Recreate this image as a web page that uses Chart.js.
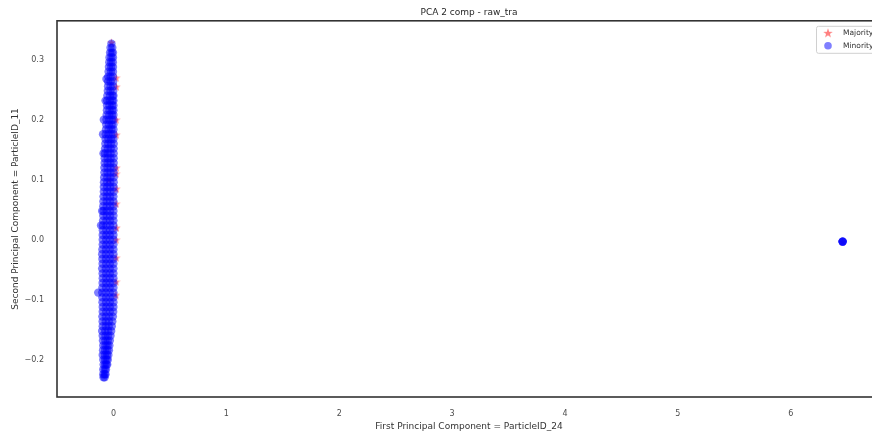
<!DOCTYPE html>
<html>
<head>
<meta charset="utf-8">
<script src="https://cdn.jsdelivr.net/npm/chart.js@4.4.1/dist/chart.umd.min.js"></script>
<style>
  html, body { margin: 0; padding: 0; background: #fff; overflow: hidden; }
  #wrap { width: 938px; height: 434px; }
</style>
</head>
<body>
<div id="wrap"><canvas id="c" width="938" height="434"></canvas></div>
<script>
// Projection of raw_tra onto the first two principal components.
const chartTitle = 'PCA 2 comp - raw_tra';
const xAxisTitle = 'First Principal Component = ParticleID_24';
const yAxisTitle = 'Second Principal Component = ParticleID_11';
const seriesNames = ['Majority', 'Minority'];
const xTicks = [0, 1, 2, 3, 4, 5, 6];
const yTicks = [-0.2, -0.1, 0.0, 0.1, 0.2, 0.3];

// Minority class samples, one row per PC2 level: [pc2, [pc1 values]]
const minorityRows = [
  [0.327, [-0.018]],
  [0.320, [-0.026, -0.010]],
  [0.312, [-0.030, -0.015, -0.004]],
  [0.304, [-0.035, -0.018, -0.004]],
  [0.296, [-0.037, -0.020, -0.005]],
  [0.288, [-0.040, -0.020, -0.004]],
  [0.280, [-0.043, -0.022, -0.004]],
  [0.272, [-0.046, -0.025, -0.004]],
  [0.268, [-0.062]],
  [0.264, [-0.047, -0.025, -0.003]],
  [0.256, [-0.048, -0.025, -0.003]],
  [0.248, [-0.050, -0.027, -0.002]],
  [0.240, [-0.054, -0.030, -0.008, 0.000]],
  [0.232, [-0.070, -0.056, -0.032, -0.010, 0.000]],
  [0.224, [-0.057, -0.035, -0.012, 0.000]],
  [0.216, [-0.058, -0.035, -0.012, 0.000]],
  [0.208, [-0.060, -0.037, -0.014, 0.000]],
  [0.200, [-0.085, -0.062, -0.038, -0.015, 0.000]],
  [0.192, [-0.064, -0.040, -0.016, 0.000]],
  [0.184, [-0.066, -0.042, -0.018, 0.000]],
  [0.176, [-0.092, -0.068, -0.044, -0.020, 0.000]],
  [0.168, [-0.070, -0.045, -0.020, 0.000]],
  [0.160, [-0.072, -0.047, -0.022, 0.002]],
  [0.152, [-0.074, -0.049, -0.024, 0.002]],
  [0.144, [-0.088, -0.075, -0.050, -0.025, 0.002]],
  [0.136, [-0.077, -0.051, -0.025, 0.002]],
  [0.128, [-0.078, -0.052, -0.026, 0.002]],
  [0.120, [-0.080, -0.053, -0.026, 0.002]],
  [0.112, [-0.080, -0.053, -0.026, 0.002]],
  [0.104, [-0.082, -0.055, -0.027, 0.002]],
  [0.096, [-0.084, -0.056, -0.028, 0.002]],
  [0.088, [-0.085, -0.057, -0.028, 0.002]],
  [0.080, [-0.085, -0.057, -0.028, 0.002]],
  [0.072, [-0.088, -0.059, -0.030, 0.000]],
  [0.064, [-0.089, -0.060, -0.030, 0.000]],
  [0.056, [-0.090, -0.060, -0.030, 0.000]],
  [0.048, [-0.100, -0.088, -0.060, -0.030, 0.000]],
  [0.040, [-0.090, -0.060, -0.030, 0.000]],
  [0.032, [-0.092, -0.062, -0.031, 0.000]],
  [0.024, [-0.110, -0.093, -0.062, -0.031, 0.000]],
  [0.016, [-0.094, -0.063, -0.031, 0.000]],
  [0.008, [-0.095, -0.064, -0.032, 0.000]],
  [0.000, [-0.095, -0.064, -0.032, 0.000]],
  [-0.008, [-0.095, -0.064, -0.032, 0.000]],
  [-0.016, [-0.098, -0.066, -0.033, 0.000]],
  [-0.024, [-0.100, -0.067, -0.033, 0.000]],
  [-0.032, [-0.098, -0.066, -0.033, 0.000]],
  [-0.040, [-0.096, -0.064, -0.032, 0.000]],
  [-0.048, [-0.100, -0.067, -0.033, 0.000]],
  [-0.056, [-0.096, -0.064, -0.032, 0.000]],
  [-0.064, [-0.095, -0.064, -0.032, 0.000]],
  [-0.072, [-0.096, -0.064, -0.032, 0.000]],
  [-0.080, [-0.098, -0.066, -0.033, 0.000]],
  [-0.088, [-0.135, -0.100, -0.067, -0.033, 0.000]],
  [-0.096, [-0.098, -0.066, -0.033, 0.000]],
  [-0.104, [-0.097, -0.065, -0.032, 0.000]],
  [-0.112, [-0.095, -0.064, -0.032, 0.000]],
  [-0.120, [-0.095, -0.064, -0.032, -0.002]],
  [-0.128, [-0.098, -0.068, -0.036, -0.005]],
  [-0.136, [-0.096, -0.068, -0.040, -0.010]],
  [-0.144, [-0.095, -0.068, -0.042, -0.015]],
  [-0.152, [-0.100, -0.073, -0.046, -0.020]],
  [-0.160, [-0.095, -0.071, -0.048, -0.026]],
  [-0.168, [-0.093, -0.071, -0.050, -0.032]],
  [-0.176, [-0.090, -0.070, -0.052, -0.036]],
  [-0.184, [-0.092, -0.073, -0.055, -0.040]],
  [-0.192, [-0.095, -0.076, -0.058, -0.045]],
  [-0.200, [-0.090, -0.074, -0.060, -0.050]],
  [-0.208, [-0.087, -0.073, -0.062, -0.055]],
  [-0.216, [-0.090, -0.076, -0.066]],
  [-0.224, [-0.090, -0.078, -0.070]],
  [-0.229, [-0.088, -0.078]],
  [-0.003, [6.46, 6.46, 6.46, 6.46]]
];

// Majority class samples: [pc1, pc2]
const majorityPoints = [
  [-0.018, 0.329], [0.024, 0.270], [0.026, 0.255], [0.024, 0.200],
  [0.025, 0.175], [0.026, 0.120], [0.024, 0.110], [0.025, 0.085],
  [0.024, 0.060], [0.027, 0.020], [0.024, 0.000], [0.024, -0.030],
  [0.023, -0.070], [0.022, -0.092], [-0.040, 0.100], [6.46, -0.003]
];

const minorityData = [];
minorityRows.forEach(([y, xs]) => xs.forEach(x => minorityData.push({ x, y })));
const majorityData = majorityPoints.map(([x, y]) => ({ x, y }));

const RED = 'rgba(255,0,0,0.5)';
const BLUE = 'rgba(0,0,255,0.5)';

// filled five-pointed star used as the majority marker
function makeStar(size, color) {
  const c = document.createElement('canvas');
  c.width = c.height = size;
  const g = c.getContext('2d');
  g.fillStyle = color;
  g.beginPath();
  for (let i = 0; i < 10; i++) {
    const r = i % 2 ? size * 0.2 : size * 0.5;
    const a = -Math.PI / 2 + i * Math.PI / 5;
    g.lineTo(size / 2 + r * Math.cos(a), size / 2 + 0.5 + r * Math.sin(a));
  }
  g.closePath();
  g.fill();
  return c;
}
const starImg = makeStar(9, RED);
const legendStar = makeStar(10, RED);

const FONT = "'DejaVu Sans', sans-serif";

// box frame around the plotting area
const framePlugin = {
  id: 'frame',
  afterDatasetsDraw(chart) {
    const { ctx, chartArea: a } = chart;
    ctx.save();
    ctx.strokeStyle = '#333';
    ctx.lineWidth = 1.6;
    ctx.strokeRect(a.left, a.top, a.right - a.left, a.bottom - a.top);
    ctx.restore();
  }
};

// legend placed inside the upper right corner of the plot
const innerLegend = {
  id: 'innerLegend',
  afterDraw(chart) {
    const { ctx, chartArea: a } = chart;
    const x0 = a.right - 65, y0 = a.top + 5;
    ctx.save();
    ctx.fillStyle = 'rgba(255,255,255,0.8)';
    ctx.strokeStyle = '#d0d0d0';
    ctx.lineWidth = 1;
    ctx.beginPath();
    ctx.roundRect(x0 + 0.5, y0 + 0.5, 70, 27, 2);
    ctx.fill();
    ctx.stroke();
    ctx.drawImage(legendStar, x0 + 7, y0 + 2);
    ctx.fillStyle = BLUE;
    ctx.beginPath();
    ctx.arc(x0 + 12, y0 + 20, 3.8, 0, Math.PI * 2);
    ctx.fill();
    ctx.fillStyle = '#333';
    ctx.font = '7.5px ' + FONT;
    ctx.textBaseline = 'middle';
    ctx.fillText(chart.data.datasets[0].label, x0 + 27, y0 + 7);
    ctx.fillText(chart.data.datasets[1].label, x0 + 27, y0 + 20);
    ctx.restore();
  }
};

const fmt = v => Number(v).toFixed(1).replace('-', '\u2212');

new Chart(document.getElementById('c'), {
  type: 'scatter',
  data: {
    datasets: [
      {
        label: seriesNames[0],
        data: majorityData,
        pointStyle: starImg,
        order: 2
      },
      {
        label: seriesNames[1],
        data: minorityData,
        backgroundColor: BLUE,
        borderWidth: 0,
        pointRadius: 4.2,
        order: 1
      }
    ]
  },
  options: {
    responsive: false,
    animation: false,
    events: [],
    layout: { padding: 0 },
    plugins: {
      legend: { display: false },
      tooltip: { enabled: false },
      title: {
        display: true,
        text: chartTitle,
        color: '#262626',
        font: { family: FONT, size: 9, weight: 'normal' },
        padding: { top: 7, bottom: 3 }
      }
    },
    scales: {
      x: {
        type: 'linear',
        min: -0.5,
        max: 6.8,
        grid: { display: false, drawTicks: false },
        border: { display: false },
        afterBuildTicks: s => { s.ticks = xTicks.map(v => ({ value: v })); },
        afterFit: s => { s.height = 37; },
        ticks: {
          padding: 12,
          color: '#4d4d4d',
          font: { family: FONT, size: 8 },
          callback: v => String(v)
        },
        title: {
          display: true,
          text: xAxisTitle,
          color: '#333',
          font: { family: FONT, size: 9 },
          padding: { top: 0, bottom: 2 }
        }
      },
      y: {
        type: 'linear',
        min: -0.262,
        max: 0.365,
        grid: { display: false, drawTicks: false },
        border: { display: false },
        afterBuildTicks: s => { s.ticks = yTicks.map(v => ({ value: v })); },
        afterFit: s => { s.width = 57; },
        ticks: {
          padding: 13,
          color: '#4d4d4d',
          font: { family: FONT, size: 8 },
          callback: v => fmt(v)
        },
        title: {
          display: true,
          text: yAxisTitle,
          color: '#333',
          font: { family: FONT, size: 9 },
          padding: { top: 10, bottom: 0 }
        }
      },
      // empty right-hand margin so the plot is centred under the title
      yRight: {
        type: 'linear',
        position: 'right',
        min: -0.262,
        max: 0.365,
        grid: { display: false, drawTicks: false },
        border: { display: false },
        ticks: { display: false },
        afterFit: s => { s.width = 57; }
      }
    }
  },
  plugins: [framePlugin, innerLegend]
});
</script>
</body>
</html>
